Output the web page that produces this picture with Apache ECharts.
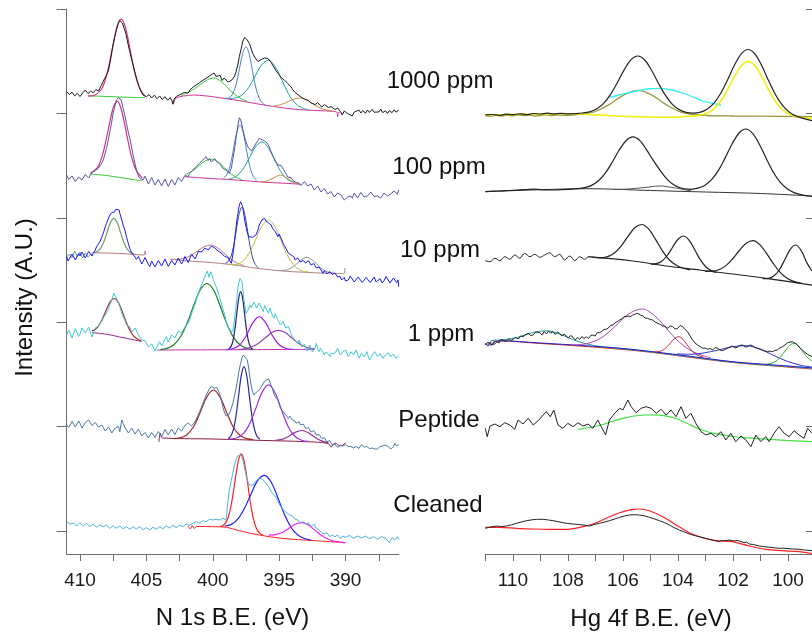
<!DOCTYPE html>
<html><head><meta charset="utf-8">
<script src="https://cdn.jsdelivr.net/npm/echarts@6/dist/echarts.min.js"></script>
<style>html,body{margin:0;padding:0;background:#fff}#c{width:812px;height:636px}</style>
</head><body><div id="c"></div>
<script>
// ---------- axis ticks / labels ----------
const nTicks = [387.5, 390, 392.5, 395, 397.5, 400, 402.5, 405, 407.5, 410];
const nTickLabels = [390, 395, 400, 405, 410];
const hgTicks = [100, 101, 102, 103, 104, 105, 106, 107, 108, 109, 110, 111];
const hgTickLabels = [100, 102, 104, 106, 108, 110];
const yTicks = [23, 127.4, 231.8, 336.2, 440.6, 545];
const sampleLabels = ['1000 ppm', '100 ppm', '10 ppm', '1 ppm', 'Peptide', 'Cleaned'];
const axisNames = ['N 1s B.E. (eV)', 'Hg 4f B.E. (eV)', 'Intensity (A.U.)'];

// ---------- N 1s : 1000 ppm ----------
const n1000Raw = [[411,462.3],[410.8,459.5],[410.6,461.8],[410.4,458.2],[410.2,460.5],[410,457.5],[409.8,461],[409.6,464],[409.4,460.5],[409.2,462.8],[409,461.3],[408.8,464.5],[408.6,463],[408.4,468.5],[408.2,474],[408,479],[407.85,484],[407.7,494],[407.55,506],[407.4,516],[407.25,524.7],[407.1,531],[407,533.3],[406.9,535],[406.8,531],[406.7,526.5],[406.55,521],[406.4,511],[406.25,502.3],[406.1,494],[406,489],[405.85,481],[405.7,473.5],[405.55,467.5],[405.4,462.5],[405.25,459],[405.1,460.5],[405,457.3],[404.8,459.5],[404.6,456],[404.4,458.8],[404.2,455.3],[404,458],[403.8,454.5],[403.6,457.3],[403.4,453.8],[403.2,456.5],[403.05,452.5],[403,449.8],[402.9,455],[402.75,457.5],[402.6,456],[402.45,459.5],[402.3,458],[402.15,461.5],[402,462.3],[401.85,461],[401.7,464.5],[401.5,466.7],[401.35,465],[401.2,469.5],[401,471.3],[400.85,470],[400.7,474],[400.5,475.7],[400.35,474.2],[400.2,478.5],[400.05,476.5],[399.9,481],[399.75,477.5],[399.6,475.8],[399.45,478.7],[399.3,473.5],[399.15,476],[399,474],[398.85,472],[398.75,470.7],[398.6,473.5],[398.5,472.3],[398.35,478],[398.25,482.3],[398.1,490],[398,497.3],[397.85,506],[397.75,512.3],[397.6,516.7],[397.5,516.7],[397.4,514],[397.25,510.7],[397.1,505],[397,500.7],[396.85,497],[396.75,495.7],[396.6,492.5],[396.5,491.3],[396.35,494.5],[396.25,494],[396.1,496],[396,494.7],[395.85,495.5],[395.75,494],[395.6,491.5],[395.5,489],[395.35,486],[395.25,483.3],[395.1,481],[395,479],[394.85,476.5],[394.75,474.7],[394.6,473.8],[394.5,472.3],[394.35,470.5],[394.25,469],[394.1,467],[394,464.7],[393.8,461.5],[393.6,459.5],[393.5,458],[393.3,456.5],[393.1,455],[393,454],[392.8,453.5],[392.6,451],[392.5,452.3],[392.3,449.5],[392.1,451.5],[392,450.7],[391.8,447],[391.6,449.5],[391.5,448],[391.3,446.5],[391.1,447.5],[391,445.7],[390.8,444.5],[390.6,446],[390.5,444],[390.35,441.5],[390.25,439],[390.1,443],[390,443.3],[389.85,440.5],[389.7,441.5],[389.5,438],[389.35,442],[389.2,440],[389,444],[388.85,441],[388.7,443.5],[388.5,440.7],[388.35,444],[388.2,441.5],[388,444.7],[387.85,441.8],[387.7,443.8],[387.5,442],[387.35,444.8],[387.2,441.3],[387,443.3],[386.85,440.5],[386.7,443.6],[386.5,441.3],[386.35,444.2],[386.2,441.8],[386,444]];
const n1000Fit407 = [[409.4,458],[408.9,458.8],[408.4,464.5],[408.15,471.9],[407.9,483.9],[407.65,499.8],[407.4,516.7],[407.15,530],[406.9,535],[406.65,529.8],[406.4,516.3],[406.15,499.2],[405.9,483.1],[405.65,470.9],[405.4,463.3],[405.1,457.8]];
const n1000Base407 = [[409.4,458],[408.5,457.8],[407,457],[406,456.6],[405.1,456.3]];
const n1000Base = [[403.05,453],[402.97,450.5],[402.85,455],[402.5,457.3],[402,458.3],[401.5,459],[401,458.7],[400,457.3],[399,455.3],[398,453.3],[397,451],[396,448.7],[395,446.7],[394,445],[393,444],[392,443.3],[391,442.7],[390.65,441.5],[390.6,437],[390.55,441.5],[390.4,441]];
const n1000P400 = [[402.4,458.3],[401.9,461.2],[401.4,465.1],[400.9,469.8],[400.4,474.3],[399.9,475.9],[399.4,472.8],[398.9,466.5],[398.4,460.2],[397.9,455.6],[397.4,452.9]];
const n1000P397 = [[399,455.6],[398.75,456.4],[398.5,460],[398.25,469.2],[398,484.5],[397.75,500.6],[397.5,507.2],[397.25,499.4],[397,482.2],[396.75,465.9],[396.5,455.6],[396.25,450.9],[396,448.9]];
const n1000P396 = [[398.8,455.5],[398.3,456],[397.8,458.9],[397.3,466.5],[396.8,478.1],[396.3,489.4],[395.8,493.7],[395.3,487.3],[394.8,473.9],[394.3,460.3],[393.8,450.9],[393.3,446.2],[392.8,444.3]];
const n1000P393 = [[395.4,448.1],[394.9,449.3],[394.4,451.9],[393.9,454.9],[393.4,456],[392.9,453.8],[392.4,449.7],[391.9,446],[391.4,443.9],[390.9,442.7]];

// ---------- N 1s : 100 ppm ----------
const n100Raw = [[411,379],[410.85,374.5],[410.75,374],[410.6,378],[410.5,377.3],[410.35,372.5],[410.25,373],[410.1,377],[410,378.3],[409.85,374],[409.75,375.7],[409.6,379.5],[409.5,379],[409.35,376],[409.25,377.3],[409.1,381.5],[409,380.7],[408.85,383.5],[408.75,384],[408.6,386],[408.5,387.3],[408.35,391],[408.25,394],[408.1,401],[408,405.7],[407.85,415],[407.75,422.3],[407.6,433],[407.5,440.7],[407.35,449],[407.25,454],[407.1,456.3],[407,455.5],[406.9,454],[406.75,445.7],[406.6,437],[406.5,430.7],[406.35,421],[406.25,415.7],[406.1,406],[406,399],[405.85,390],[405.75,384],[405.6,378],[405.5,375.7],[405.35,377.5],[405.25,374],[405.1,378],[405,376.3],[404.85,370],[404.75,372.3],[404.6,376.5],[404.5,375.7],[404.35,369],[404.25,370.7],[404.1,374.5],[404,373],[403.85,368],[403.75,369.7],[403.6,375],[403.5,374],[403.35,367.5],[403.25,369],[403.1,374.5],[403,373],[402.85,369],[402.75,370.7],[402.6,376.5],[402.5,375.7],[402.35,372.5],[402.25,374],[402.1,378.5],[402,379],[401.85,377.5],[401.75,380.7],[401.6,382],[401.5,384],[401.35,385],[401.25,387.3],[401.1,389],[401,390.7],[400.85,391.5],[400.75,394],[400.6,393],[400.5,397.3],[400.35,393.5],[400.25,395.7],[400.1,392],[400,394],[399.85,395.5],[399.75,393],[399.6,391.5],[399.5,390.7],[399.35,388],[399.25,385.7],[399.1,386.5],[399,384],[398.85,382.5],[398.75,380.7],[398.6,386],[398.5,394],[398.35,406],[398.25,415.7],[398.1,429],[398,436.3],[397.9,434],[397.75,425.7],[397.6,417],[397.5,412.3],[397.35,407],[397.25,405.7],[397.1,403],[397,404],[396.85,408],[396.75,410.7],[396.6,413.5],[396.5,415.7],[396.35,414.5],[396.25,414],[396.1,413.5],[396,412.3],[395.85,409.5],[395.75,407.3],[395.6,402],[395.5,399],[395.35,395],[395.25,392.3],[395.1,389],[395,387.3],[394.85,388.5],[394.75,386.3],[394.6,383],[394.5,380.7],[394.35,377],[394.25,375.7],[394.1,376.5],[394,374],[393.85,372],[393.75,371.7],[393.6,373],[393.5,370.7],[393.35,368.5],[393.25,369.7],[393.1,372.5],[393,371.7],[392.85,368],[392.75,369],[392.6,370],[392.5,368.3],[392.35,364],[392.25,365.7],[392.1,368],[392,366.3],[391.85,362],[391.75,362.3],[391.6,365.5],[391.5,364],[391.35,360],[391.25,359],[391.1,362.5],[391,360.7],[390.85,357],[390.75,358.3],[390.6,361],[390.5,362.3],[390.35,359],[390.25,357.3],[390.1,354],[390,352.3],[389.85,357],[389.75,359],[389.6,358],[389.5,355.7],[389.35,361],[389.25,359.7],[389.1,356],[389,357.3],[388.85,361.5],[388.75,360.7],[388.6,357],[388.5,355.7],[388.35,358],[388.25,359],[388.1,362],[388,360.3],[387.85,357.5],[387.75,356.3],[387.6,358],[387.5,359.7],[387.35,356],[387.25,357.3],[387.1,361],[387,360.7],[386.85,358],[386.75,357.3],[386.6,360],[386.5,359],[386.35,363],[386.25,362.3],[386.1,360],[386,364]];
const n100Fit407 = [[409.2,381],[408.7,386.1],[408.45,393.1],[408.2,404.2],[407.95,419.3],[407.7,435.4],[407.45,448],[407.2,452.6],[406.95,447.3],[406.7,434.1],[406.45,417.3],[406.2,401.6],[405.95,389.7],[405.7,382.1],[405.3,375.8]];
const n100Base407 = [[409.25,380],[408,378.5],[407,376.5],[406,374.5],[405.35,373]];
const n100Base = [[402.1,377.3],[401,376.3],[400,375.3],[399,374.7],[398,373.7],[397,372.7],[396,371.7],[395,371],[394,370.3],[393.4,369.7]];
const n100P400 = [[402.1,379.4],[401.6,382.4],[401.1,387.6],[400.6,392.8],[400.1,394.9],[399.6,392],[399.1,385.9],[398.6,379.9],[398.1,375.9],[397.8,374.3]];
const n100P398 = [[399.2,375.8],[398.95,379.2],[398.7,388],[398.45,403.9],[398.2,421.4],[397.95,429.1],[397.7,421],[397.45,403.2],[397.2,386.8],[396.95,377.5],[396.7,373.8]];
const n100P396 = [[398.8,374.8],[398.3,377.2],[397.8,383.5],[397.3,394.7],[396.8,406.8],[396.3,412],[395.8,405.8],[395.3,392.8],[394.8,380.8],[394.3,373.9],[393.8,371]];
const n100P395 = [[396.4,372.2],[395.9,373],[395.4,376.3],[394.9,379],[394.4,375.7],[393.9,371.6],[393.4,369.9]];

// ---------- N 1s : 10 ppm ----------
const n10Raw = [[411,297.3],[410.9,293],[410.75,294.7],[410.6,300],[410.5,299],[410.35,294],[410.25,295.7],[410.1,300.5],[410,298],[409.85,302],[409.75,300.7],[409.6,296],[409.5,297.3],[409.35,302.5],[409.25,301.3],[409.1,298],[409,300.7],[408.85,304],[408.75,307.3],[408.6,309],[408.5,312.3],[408.35,317],[408.25,320.7],[408.1,327],[408,330.7],[407.85,336],[407.75,339],[407.6,341.5],[407.5,340.7],[407.4,342],[407.3,344.7],[407.15,346.7],[407.05,344],[407,340.7],[406.85,334],[406.75,329],[406.6,323],[406.5,317.3],[406.35,310],[406.25,305.7],[406.1,301],[406,299],[405.85,297],[405.75,294.7],[405.6,297.5],[405.5,295.7],[405.35,290],[405.25,292.3],[405.1,296.5],[405,294.7],[404.85,289.5],[404.75,287.3],[404.6,293],[404.5,292.3],[404.35,287],[404.25,289],[404.1,293.5],[404,292.3],[403.85,288],[403.75,290],[403.6,295],[403.5,294],[403.35,287.5],[403.25,289],[403.1,293.5],[403,292.3],[402.85,289],[402.75,290.7],[402.6,296],[402.5,294.7],[402.35,290],[402.25,292.3],[402.1,297.5],[402,295.7],[401.85,291.5],[401.75,293.3],[401.6,300],[401.5,299],[401.35,295],[401.25,297.3],[401.1,302.5],[401,301.3],[400.85,302],[400.75,304],[400.6,306],[400.5,307.3],[400.35,304],[400.25,305.7],[400.1,308],[400,309],[399.85,306],[399.75,304.7],[399.6,303],[399.5,301.3],[399.35,301],[399.25,299],[399.1,297.5],[399,295.7],[398.85,296.5],[398.75,294],[398.6,290.7],[398.45,302.3],[398.3,320.7],[398.15,337.3],[398,349],[397.9,352.3],[397.75,347.3],[397.6,334],[397.45,324],[397.3,317.3],[397.15,319],[397,316.7],[396.85,318],[396.75,319],[396.6,324],[396.5,329],[396.4,331],[396.3,334],[396.2,332],[396.1,335.7],[396,333],[395.9,334.7],[395.8,331],[395.7,332.3],[395.6,329],[395.5,325.7],[395.4,326],[395.3,322.3],[395.2,320],[395.1,317.3],[395,320],[394.9,319],[394.8,314],[394.7,310.7],[394.6,308],[394.5,305.7],[394.4,304],[394.3,300.7],[394.2,302],[394.1,299],[394,300],[393.9,297.3],[393.8,294],[393.7,292.3],[393.6,296],[393.5,295.7],[393.4,292],[393.3,290.7],[393.2,293.5],[393.1,294],[393,291],[392.9,290.7],[392.8,293.5],[392.7,292.3],[392.6,289],[392.5,287.3],[392.4,290.5],[392.3,289],[392.2,286],[392.1,284],[392,287],[391.9,285.7],[391.8,283],[391.7,280.7],[391.6,283.5],[391.5,282.3],[391.4,280],[391.3,279],[391.2,282.5],[391.1,281.3],[391,279.5],[390.9,278],[390.8,281],[390.7,280],[390.6,277],[390.5,275.7],[390.4,277.5],[390.3,274],[390.2,276],[390.1,276.7],[390,273],[389.8,274],[389.65,278],[389.5,276.7],[389.35,272],[389.2,273.3],[389.05,277],[388.9,275.7],[388.75,271.5],[388.6,272.3],[388.45,276.5],[388.3,275.3],[388.15,271.5],[388,274],[387.85,277],[387.7,272],[387.55,270.5],[387.4,275.3],[387.25,271],[387.1,273.3],[386.95,277.5],[386.8,275.7],[386.65,271],[386.5,272.3],[386.4,276],[386.3,276.7],[386.15,271.3],[386.05,274],[386,267.3]];
const n10Sage = [[411,297],[410.8,300],[410.6,296],[410.4,303],[410.2,297],[410,302],[409.8,296],[409.6,301],[409.4,297],[409.2,300],[409,299]];
const n10Fit407 = [[408.95,301.6],[408.7,302.6],[408.45,305.7],[408.2,312.3],[407.95,322],[407.7,331.6],[407.45,335.6],[407.2,331.4],[406.95,321.6],[406.7,311.7],[406.45,304.9],[406.2,301.6],[405.95,300.4]];
const n10Base407 = [[409.1,301.3],[407,300.5],[405.15,299],[405.1,303],[405.05,299.5]];
const n10Base = [[403.2,294.7],[402,293.3],[401,292.3],[400,291.3],[399,290],[398,288.3],[397,286.3],[396,284.7],[395,283.3],[394,282.3],[393,281.7],[392,281],[391,280.7],[390.1,280.5],[390.05,286]];
const n10P400 = [[403.15,294.7],[402.65,294.6],[402.15,295.8],[401.65,298.6],[401.15,303],[400.65,307.3],[400.15,308.9],[399.65,306.3],[399.15,300.8],[398.65,295],[398.15,290.8],[397.65,288.4]];
const n10P398 = [[399.05,290.7],[398.8,293],[398.55,301],[398.3,317.6],[398.05,337.8],[397.8,347],[397.55,337.1],[397.3,316.1],[397.05,298.6],[396.8,289.5],[396.55,286.2]];
const n10P396 = [[398.8,289.8],[398.3,289.6],[397.8,292.3],[397.3,300.1],[396.8,313.4],[396.3,327.8],[395.8,333.9],[395.3,326.8],[394.8,311.4],[394.3,296.7],[393.8,287.4],[393.3,283.3],[392.8,282.1]];
const n10P393 = [[394.9,283.5],[394.4,284.1],[393.9,287.6],[393.4,293.5],[392.9,296.6],[392.4,292.9],[391.9,286.4],[391.4,282.3],[390.9,281]];

// ---------- N 1s : 1 ppm ----------
const n1Raw = [[411,219],[410.85,224],[410.75,222.3],[410.6,216],[410.5,218],[410.35,225.5],[410.25,224],[410.1,217.5],[410,220],[409.85,226],[409.75,227.3],[409.6,221],[409.5,220.7],[409.35,227],[409.25,225.7],[409.1,217],[409,219],[408.85,226],[408.75,224],[408.6,228],[408.5,230.7],[408.35,233],[408.25,235.7],[408.1,239],[408,240.7],[407.85,245],[407.75,249],[407.6,254],[407.45,260.7],[407.3,257.3],[407.15,252.3],[407,247.3],[406.85,241],[406.75,237.3],[406.6,233],[406.5,229],[406.35,230],[406.25,227.3],[406.1,222],[406,220.7],[405.85,226],[405.75,225.7],[405.6,219],[405.5,217.3],[405.35,214],[405.25,212.3],[405.1,213.5],[405,210.7],[404.85,207],[404.75,205.7],[404.6,210],[404.5,209],[404.35,203],[404.25,204],[404.1,210],[404,212.3],[403.85,208],[403.75,209],[403.6,215],[403.5,217.3],[403.35,212],[403.25,214],[403.1,219],[403,220.7],[402.85,216],[402.75,217.3],[402.6,223],[402.5,224],[402.35,221],[402.25,222.3],[402.1,227],[402,229],[401.85,231],[401.75,234],[401.6,240],[401.5,244],[401.35,249],[401.25,254],[401.1,260],[401,264],[400.85,269],[400.75,272.3],[400.6,277],[400.5,280.7],[400.4,283],[400.3,276.7],[400.15,282.3],[400.05,279],[400,275.7],[399.85,271],[399.75,267.3],[399.6,262],[399.5,257.3],[399.35,251],[399.25,245.7],[399.1,239],[399,232.3],[398.85,227],[398.75,224],[398.6,222],[398.5,222.3],[398.35,236],[398.25,247.3],[398.1,267.3],[397.95,275.7],[397.8,272.3],[397.65,254],[397.5,240.7],[397.35,244],[397.2,249],[397.1,246],[397,245.7],[396.9,252],[396.8,250.7],[396.7,246],[396.6,247.3],[396.5,251],[396.4,249],[396.3,245],[396.2,242.3],[396.1,248.5],[396,247.3],[395.9,243],[395.8,240.7],[395.7,246],[395.6,244],[395.5,238],[395.4,235.7],[395.3,240.5],[395.2,239],[395.1,234],[395,232.3],[394.9,229],[394.8,227.3],[394.7,232.5],[394.6,230.7],[394.5,226],[394.4,224],[394.3,227.5],[394.2,225.7],[394.1,220],[394,217.3],[393.9,216],[393.8,214],[393.7,212.5],[393.6,210.7],[393.5,214],[393.4,212.3],[393.3,207],[393.2,205.7],[393.1,210],[393,209],[392.9,203],[392.8,204],[392.7,209],[392.6,207.3],[392.5,202],[392.4,200.7],[392.3,206],[392.2,210.7],[392.1,205],[392,202.3],[391.9,206],[391.8,207.3],[391.7,202],[391.6,199],[391.5,202],[391.4,204],[391.3,200],[391.2,197.3],[391.1,200.5],[391,202.3],[390.8,200.7],[390.6,205.7],[390.4,199],[390.2,202.3],[390,204],[389.8,197.3],[389.6,202.3],[389.4,199],[389.2,204],[389,195.7],[388.8,200.7],[388.6,197.3],[388.4,202.3],[388.2,194],[388,199],[387.8,202.3],[387.6,197.3],[387.4,200.7],[387.2,195.7],[387,199],[386.8,201.3],[386.6,197.3],[386.4,200],[386.2,195.7],[386,198]];
const n1Fit407 = [[409.1,223.1],[408.9,224.3],[408.65,227.4],[408.4,232.8],[408.15,240.1],[407.9,247.8],[407.65,253.6],[407.4,255.5],[407.15,252.4],[406.9,245.3],[406.65,236.4],[406.4,228],[406.15,221.5],[405.9,217.3],[405.4,213]];
const n1Base407 = [[409.1,221.3],[408,219.8],[407,217],[406,214.3],[405.35,212.3]];
const n1Base = [[404.2,204],[398,204.3],[392.3,204.7]];
const n1P400 = [[403.95,204.4],[403.45,205.6],[402.95,209],[402.45,216.7],[401.95,230.3],[401.45,248],[400.95,264],[400.45,270.5],[399.95,264.2],[399.45,248.2],[398.95,230.5],[398.45,216.9],[397.95,209.2],[397.45,205.8],[396.95,204.6]];
const n1P398 = [[398.8,204.9],[398.65,206.9],[398.5,212.1],[398.35,223.1],[398.2,239.5],[398.05,255.5],[397.9,262.3],[397.75,255.5],[397.6,239.5],[397.45,223.1],[397.3,212.1],[397.15,206.9],[397,204.9]];
const n1P396 = [[399,204.4],[398.5,205.3],[398,208.8],[397.5,217.9],[397,230.8],[396.5,237.4],[396,230.9],[395.5,218.2],[395,209.2],[394.5,205.7],[394,204.6]];
const n1P395 = [[398.05,204.5],[397.55,205.3],[397.05,207.2],[396.55,210.8],[396.05,216.1],[395.55,221.4],[395.05,223.6],[394.55,221.4],[394.05,216.1],[393.55,210.8],[393.05,207.2],[392.55,205.3],[392.3,204.9]];

// ---------- N 1s : Peptide ----------
const pepRaw = [[411,129],[410.85,126.5],[410.75,128],[410.6,132.5],[410.5,131.3],[410.35,127],[410.25,129],[410.1,133],[410,130.7],[409.85,126],[409.75,127.3],[409.6,131.5],[409.5,130.7],[409.35,134],[409.25,132.3],[409.1,128.5],[409,128],[408.85,131.5],[408.75,130],[408.6,127],[408.5,125.7],[408.35,129],[408.25,127.3],[408.1,123],[408,124],[407.85,127],[407.75,125.7],[407.6,121],[407.5,122.3],[407.35,126],[407.25,124.7],[407.1,127.5],[407,122.3],[406.85,134],[406.75,130.7],[406.6,126],[406.5,124],[406.35,121],[406.25,122.3],[406.1,126],[406,124.7],[405.85,120],[405.75,120.7],[405.6,125],[405.5,124],[405.35,118],[405.25,117.3],[405.1,121.5],[405,120.7],[404.85,116],[404.75,115.7],[404.6,121.5],[404.5,120.7],[404.35,116.5],[404.25,118],[404.1,122.5],[404,121.3],[403.85,117],[403.75,119],[403.6,124.5],[403.5,124],[403.35,119],[403.25,120],[403.1,125],[403,124],[402.85,119.5],[402.75,120.7],[402.6,126],[402.5,125.7],[402.35,123],[402.25,124.7],[402.1,128.5],[402,128],[401.85,131],[401.75,130.7],[401.6,128],[401.5,129],[401.35,132],[401.25,134],[401.1,139],[401,142.3],[400.85,147],[400.75,150.7],[400.6,155],[400.5,159],[400.4,161],[400.3,164],[400.2,166],[400.1,168],[400,166.5],[399.9,165.7],[399.8,167.5],[399.7,166.7],[399.6,164],[399.5,160.7],[399.4,156],[399.3,150.7],[399.2,145],[399.1,140.7],[399,138],[398.9,137.3],[398.8,139],[398.7,142.3],[398.6,146],[398.5,150],[398.4,156],[398.3,162],[398.2,169],[398.1,177.3],[398,185],[397.9,190.7],[397.8,196],[397.7,199],[397.55,200.7],[397.4,194],[397.3,186],[397.2,176],[397.1,168],[397,162],[396.9,159],[396.8,160],[396.7,162],[396.6,163],[396.5,164],[396.4,166],[396.3,168],[396.2,171],[396.1,172],[396,174],[395.9,176],[395.8,175],[395.7,172],[395.6,168],[395.5,165],[395.4,160],[395.3,157.3],[395.2,156.5],[395.1,154],[395,150],[394.9,145.7],[394.8,144.5],[394.7,142.3],[394.6,140.5],[394.5,139],[394.4,137],[394.3,135.7],[394.2,138],[394.1,137.3],[394,134],[393.9,132.3],[393.8,133],[393.7,130.7],[393.6,131],[393.5,132.3],[393.4,129],[393.3,127.3],[393.2,130],[393.1,129],[393,125.5],[392.9,124],[392.8,126.5],[392.7,125.7],[392.6,122],[392.5,120.7],[392.4,123.5],[392.3,122.3],[392.2,119],[392.1,117.3],[392,119.5],[391.9,118],[391.8,115.5],[391.7,114],[391.6,116.5],[391.5,114.7],[391.4,112],[391.3,110.7],[391.2,113.5],[391.1,112.3],[391,109],[390.9,107.3],[390.8,110],[390.7,109],[390.6,106.5],[390.5,105.7],[390.4,109],[390.3,110.7],[390.2,108],[390.1,107.3],[390,109.5],[389.9,110.7],[389.8,107.5],[389.7,105.7],[389.6,107.5],[389.5,109],[389.4,106],[389.3,105.7],[389.2,107.5],[389.1,108],[389,105.5],[388.9,107.3],[388.8,109.5],[388.7,110],[388.6,107],[388.5,105.7],[388.4,107.5],[388.3,108],[388.2,105.5],[388.1,104],[388,106],[387.9,107.3],[387.8,105],[387.7,103.3],[387.6,105],[387.5,105.7],[387.4,107.5],[387.3,109],[387.2,108],[387.1,107.3],[387,109],[386.9,110],[386.8,107.5],[386.7,105.7],[386.6,105],[386.5,104],[386.4,107],[386.3,110.7],[386.2,108.5],[386.1,107.3],[386,109]];
const pepBase = [[404.05,112],[403.95,121],[403.8,116],[400,115],[396,113.5],[393,112.3],[391.3,110.5],[391.1,107],[390.8,111],[390.4,108],[390,111]];
const pepP400 = [[402.95,115.4],[402.45,116.1],[401.95,119.3],[401.45,127.2],[400.95,141.5],[400.45,157],[399.95,164],[399.45,156.9],[398.95,141.3],[398.45,126.8],[397.95,118.7],[397.45,115.4],[396.95,114.4]];
const pepP397 = [[398.85,115.4],[398.65,117.7],[398.45,124.4],[398.25,138.2],[398.05,158.8],[397.85,178.8],[397.65,187.4],[397.45,178.7],[397.25,158.6],[397.05,137.9],[396.85,124.1],[396.65,117.3],[396.45,114.9]];
const pepP396 = [[398.8,114.8],[398.3,115.7],[397.8,119.1],[397.3,128.1],[396.8,144.1],[396.3,161.4],[395.8,169.1],[395.3,161],[394.8,143.2],[394.3,126.8],[393.8,117.5],[393.3,113.7],[392.8,112.6]];
const pepP393 = [[395.3,113.6],[394.8,114.7],[394.3,117.5],[393.8,121.6],[393.3,123.5],[392.8,121.2],[392.3,116.5],[391.8,113.1],[391.3,111.1]];

// ---------- N 1s : Cleaned ----------
const clRaw = [[411,32.3],[410.75,30],[410.5,30.7],[410.25,28],[410,31.3],[409.75,28],[409.5,30.7],[409.25,27.3],[409,30],[408.75,26.7],[408.5,29],[408.25,27.3],[408,29],[407.75,25.7],[407.5,28.3],[407.25,25.7],[407,28],[406.75,25.3],[406.5,27.3],[406.25,24.7],[406,27.3],[405.75,25],[405.5,27.3],[405.25,24.3],[405,26.3],[404.75,24],[404.5,26.7],[404.25,24.7],[404,27.3],[403.75,25.3],[403.5,28],[403.25,26],[403,28.7],[402.75,26.3],[402.5,28.7],[402.25,27.3],[402,30],[401.75,28.7],[401.5,30.7],[401.25,32.3],[401,30.7],[400.75,33.3],[400.5,32.3],[400.25,34.7],[400,34],[399.75,34.7],[399.5,34],[399.25,35.7],[399,34],[398.9,47.3],[398.75,64],[398.6,74],[398.45,84],[398.3,92.3],[398.15,98],[398,100],[397.85,99],[397.7,92.3],[397.55,82.3],[397.4,74],[397.25,69],[397.1,67.3],[396.95,69],[396.8,72.3],[396.6,74.7],[396.4,75.7],[396.2,74],[396,70.7],[395.8,67.3],[395.6,62.3],[395.4,59],[395.2,55.7],[395,50],[394.8,45.7],[394.6,43.3],[394.4,40.7],[394.2,39],[394,38],[393.8,34.7],[393.6,34],[393.4,31.3],[393.2,32.3],[393,30],[392.8,31.3],[392.6,27.3],[392.4,30],[392.2,25.7],[392,24],[391.8,21.3],[391.6,20],[391.4,21.3],[391.2,17.3],[391,19],[390.8,17.3],[390.6,19],[390.4,15.7],[390.2,18],[390,16.7],[389.7,18.7],[389.4,15.7],[389.1,18],[388.8,16],[388.5,18],[388.2,15.3],[387.9,17.3],[387.6,14.7],[387.3,17.3],[387,16],[386.7,11.3],[386.5,16.3],[386.3,14],[386.1,17.3],[386,14.7]];
const clBase = [[401.85,28],[401.7,25],[401.55,28.5],[401.4,25.5],[401.2,27.5],[400,27.3],[399,26.7],[398,23.3],[396.5,19],[394.8,15.7],[392.3,13.3],[390,11.3]];
const clP398 = [[399.45,27.7],[399.25,28.3],[399.05,30.8],[398.85,36.2],[398.65,46.5],[398.45,62],[398.25,79.8],[398.05,94.6],[397.85,100.1],[397.65,93.7],[397.45,77.9],[397.25,58.8],[397.05,42.1],[396.85,30.6],[396.65,23.9],[396.45,20.6],[396.25,19.1]];
const clP396 = [[399.1,28],[398.6,29.6],[398.1,35.1],[397.6,46],[397.1,60.6],[396.6,73.8],[396.1,78.6],[395.6,71.7],[395.1,56.3],[394.6,39.4],[394.1,26.5],[393.6,19],[393.1,15.5],[392.6,13.9]];
const clP393 = [[395.8,18.8],[395.3,19.3],[394.8,21.2],[394.3,25.5],[393.8,29.8],[393.3,31.4],[392.8,29],[392.3,23.6],[391.8,18.4],[391.3,14.7],[390.8,12.6],[390.3,11.7],[390,11.3]];

// ---------- Hg 4f : 1000 ppm ----------
const hg1000Env = [[111,439.2],[110.75,439.5],[110.5,438.6],[110.25,439.8],[110,439.3],[109.75,440.2],[109.5,439.4],[109.25,440.5],[109,440],[108.75,440.8],[108.5,440.1],[108.25,440.6],[108,440.2],[107.75,440.4],[107.46,441],[107.21,442.2],[106.96,445],[106.71,450.4],[106.46,459.1],[106.21,471],[105.96,483.9],[105.71,494.1],[105.46,498],[105.21,494],[104.96,483.8],[104.71,470.8],[104.46,458.8],[104.21,449.9],[103.96,444.4],[103.71,441.6],[103.46,440.9],[103.21,441.6],[102.96,444.5],[102.7,450.7],[102.45,460.5],[102.2,474],[101.95,488.7],[101.7,500.2],[101.45,504.5],[101.2,499.9],[100.95,488],[100.7,472.9],[100.45,459],[100.2,448.6],[99.95,441.8],[99.7,437.9],[99.45,435.7],[99.13,433.3]];
const hg1000Olive = [[111,438.3],[110.8,437.6],[110.6,438.9],[110.4,438],[110.2,438.7],[110,438.2],[109.8,439.1],[109.6,438.3],[109.4,438.9],[109.2,438],[109,438.5],[108.8,439.2],[108.6,438.4],[108.4,439],[108.2,438.6],[108,438.7],[107.46,439.8],[106.96,443],[106.46,450.1],[105.96,459.2],[105.46,463.6],[104.96,459.1],[104.46,449.9],[103.96,442.7],[103.46,439.5],[102.96,438.5],[102,438],[101,437.8],[100,437.6],[99.13,437.3]];
const hg1000Cyan = [[106.49,456.7],[106.2,458.5],[105.9,460.7],[105.5,463],[105.1,465],[104.73,465.7],[104.3,464.5],[103.9,461.5],[103.5,457.5],[103.1,453],[102.7,450.3],[102.44,449]];
const hg1000Yellow = [[111,439.2],[110,439.5],[109,440],[108,440.3],[107.5,440],[107,439],[106,437.8],[105,437],[104.5,436.8],[104,437],[103.45,437.9],[103.2,438.7],[102.95,440.7],[102.7,445],[102.45,452.7],[102.2,464.2],[101.95,477.4],[101.7,488.3],[101.45,492.6],[101.2,488.2],[100.95,477.2],[100.7,463.9],[100.45,452.2],[100.2,444.2],[99.95,439.7],[99.7,437.3],[99.45,436.3],[99.13,435.7]];

// ---------- Hg 4f : 100 ppm ----------
const hg100Env = [[111,362.3],[110.75,362.8],[110.5,363],[110.25,363.4],[110,363.6],[109.75,364.2],[109.5,364.5],[109.25,364.8],[109,364.4],[108.75,364.1],[108.5,364],[108.25,364.3],[108,364.6],[107.64,365.3],[107.39,366.3],[107.14,368.6],[106.89,373.2],[106.64,380.9],[106.39,391.7],[106.14,403.7],[105.89,413.3],[105.64,417.2],[105.39,413.6],[105.14,404.2],[104.89,393.3],[104.64,383.3],[104.39,374.7],[104.14,369],[103.89,366],[103.64,364.8],[103.53,364.7],[103.28,365.8],[103.03,368.6],[102.78,374.3],[102.53,383.6],[102.28,396.4],[102.03,410.2],[101.78,421],[101.53,425],[101.28,420.3],[101.03,409],[100.78,394.8],[100.53,381.5],[100.28,371.6],[100.03,365.2],[99.78,361.4],[99.53,359.4],[99.13,357.5]];
const hg100Base = [[111,362.3],[109,364.3],[107.3,365.3],[105,363.5],[103,362],[101,360.5],[99.13,358]];
const hg100Small = [[106.4,364.5],[105.8,365],[105.2,366.5],[104.67,368],[104.1,366],[103.5,363]];

// ---------- Hg 4f : 10 ppm ----------
const hg10Raw = [[111,293.3],[110.83,292.3],[110.65,295.7],[110.47,293.3],[110.29,297.3],[110.11,294.7],[109.93,299],[109.75,295.7],[109.57,300.7],[109.38,297.3],[109.2,299.7],[109.02,296.7],[108.84,299],[108.66,301.3],[108.48,297.3],[108.3,299.7],[108.12,294],[107.93,298],[107.75,293.3],[107.57,297.3],[107.39,294.7],[107.27,297.3]];
const hg10Base = [[107.27,297.3],[105.64,293],[104.43,288],[103.22,284],[102.02,280],[100.81,275.7],[99.13,268.8]];
const hg10PA = [[107.15,297],[106.81,296.1],[106.56,297.4],[106.31,301],[106.06,308.2],[105.81,317.9],[105.56,326.5],[105.31,329.5],[105.06,324.8],[104.81,314.4],[104.56,303],[104.31,294],[104.06,288.7],[103.81,285.7],[103.56,284.1]];
const hg10PB = [[104.99,289.8],[104.79,290.3],[104.59,292.8],[104.39,298.5],[104.19,307],[103.99,315],[103.79,318],[103.59,313.6],[103.39,304.2],[103.19,294.3],[102.99,287.3],[102.79,283.4],[102.59,281.5]];
const hg10PC = [[103.02,282.7],[102.77,282.8],[102.52,284.2],[102.27,288.1],[102.02,295],[101.77,303.5],[101.52,310.8],[101.27,313.3],[101.02,309.1],[100.77,300.1],[100.52,289.8],[100.27,281.2],[100.02,275.6],[99.77,272.4],[99.52,270.6]];
const hg10PD = [[100.92,275.4],[100.72,275.6],[100.52,277.9],[100.32,284],[100.12,294.2],[99.92,304.7],[99.72,309],[99.52,303.3],[99.32,291.4],[99.13,283]];

// ---------- Hg 4f : 1 ppm ----------
const hg1Raw = [[111,209],[110.92,211.5],[110.83,210.7],[110.75,209],[110.67,213],[110.59,212.3],[110.5,211],[110.43,214.5],[110.35,214],[110.25,212.5],[110.15,215.5],[110.07,213.5],[109.99,214.7],[109.9,216.5],[109.8,215],[109.72,218],[109.63,217.3],[109.53,219.5],[109.44,220.7],[109.35,218.5],[109.26,219],[109.17,222],[109.1,220],[109.02,221.3],[108.94,219],[108.86,222.5],[108.78,220],[108.7,223],[108.62,221],[108.54,222.3],[108.46,219.5],[108.38,222],[108.3,220.7],[108.22,218],[108.14,220],[108.06,218],[107.98,216],[107.9,218.5],[107.81,216.7],[107.73,214],[107.65,216.5],[107.57,214.7],[107.49,217.5],[107.41,215.5],[107.33,217.3],[107.25,215.5],[107.17,218.5],[107.09,219],[107.01,218],[106.93,221.5],[106.85,221.3],[106.77,222.5],[106.69,224.5],[106.61,224.7],[106.53,226],[106.45,228.5],[106.36,229],[106.28,231.5],[106.2,232.5],[106.12,234],[106.04,235],[105.96,237.5],[105.88,237.3],[105.8,238],[105.72,237.5],[105.64,239],[105.55,240],[105.46,240.7],[105.37,239],[105.28,238],[105.19,236],[105.1,235.7],[105.01,234.5],[104.92,234],[104.83,232],[104.73,230.7],[104.64,229.5],[104.55,228],[104.46,227.5],[104.37,225.7],[104.28,228],[104.19,227.3],[104.1,225],[104.01,225.7],[103.92,228.5],[103.83,227.3],[103.74,224.5],[103.65,222.3],[103.56,218],[103.47,214],[103.38,211],[103.29,209],[103.2,207.5],[103.1,205.7],[103.01,206],[102.92,204.7],[102.83,205.5],[102.74,204],[102.65,206.5],[102.56,205.7],[102.47,204],[102.38,203.3],[102.29,204.5],[102.2,205.7],[102.11,207],[102.02,208],[101.93,206],[101.84,206.7],[101.75,208.5],[101.65,209],[101.56,207],[101.47,207.3],[101.38,209],[101.29,208.3],[101.2,206.5],[101.11,205.7],[101.02,205],[100.93,204],[100.84,203],[100.75,202.3],[100.66,203],[100.57,202.3],[100.48,203.5],[100.39,204],[100.3,206],[100.2,207.3],[100.11,209],[100.02,211.3],[99.93,212],[99.84,212.3],[99.75,211],[99.66,209],[99.57,206],[99.48,204],[99.38,201.5],[99.28,199.5],[99.13,197.3]];
const hg1BaseBlue = [[111,210.5],[110.9,208],[110.8,211.5],[110.7,209.5],[110.5,213.3],[109,211],[107.5,208.5],[106,205.5],[104.92,202.3],[103.5,197.5],[102.02,192.3],[100.5,189],[99.13,186.2]];
const hg1BaseRed = [[111,209],[110.9,211.5],[110.8,208.5],[110.65,212],[110.5,213],[109,210.5],[107.5,207.8],[106,204.5],[104.92,201.5],[103.5,196.5],[102.02,191.5],[100.5,188],[99.13,185]];
const hg1Teal = [[111,211],[110.9,209],[110.78,213.5],[110.28,214.3],[109.78,217.1],[109.28,221.4],[108.78,223.2],[108.28,219.8],[107.78,214],[107.28,209.8],[106.78,207.4],[106,205.3],[104.92,202],[103.5,197],[102.02,192],[100.5,188.5],[99.13,185.8]];
const hg1Magenta = [[107.81,209.1],[107.31,210.4],[106.81,215.8],[106.31,226.9],[105.81,239.7],[105.31,245],[104.81,237.4],[104.31,222.1],[103.81,208.5],[103.31,200.5],[102.81,196.3]];
const hg1Red = [[104.87,202.1],[104.72,202.3],[104.57,203.5],[104.42,206.5],[104.27,211.1],[104.12,215.6],[103.97,217.3],[103.82,214.7],[103.67,209.4],[103.52,203.9],[103.37,200.1],[103.22,198],[103.07,196.9]];
const hg1Blue = [[104.03,200.2],[103.53,199.7],[103.03,201.2],[102.53,204],[102.03,207.3],[101.53,208.3],[101.03,205],[100.53,198.7],[100.03,192.7],[99.53,188.7],[99.13,186.9]];
const hg1Green = [[100.78,190.1],[100.58,190.9],[100.38,194.1],[100.18,200.4],[99.98,207.6],[99.78,210.7],[99.58,206.9],[99.38,198.9],[99.13,193]];

// ---------- Hg 4f : Peptide ----------
const hgPepRaw = [[111,125.7],[110.93,117.3],[110.83,128],[110.65,130],[110.47,127.3],[110.29,131.3],[110.11,129],[109.93,124.7],[109.81,134],[109.63,130],[109.44,135.7],[109.26,129],[109.08,133.3],[108.9,139],[108.78,142.3],[108.64,137.3],[108.51,144],[108.36,129],[108.18,125.7],[108,130.7],[107.81,127.3],[107.63,131.3],[107.45,128],[107.27,130],[107.09,125.7],[106.91,134],[106.79,127.3],[106.63,119],[106.49,134],[106.3,140.7],[106.12,145.7],[106,144],[105.82,154],[105.7,147.3],[105.52,141.3],[105.34,145.7],[105.16,147.3],[104.98,145.7],[104.79,140.7],[104.61,144.7],[104.43,139],[104.25,144],[104.07,137.3],[103.89,147.3],[103.71,135.7],[103.53,140.7],[103.35,130.7],[103.16,122.3],[102.98,119],[102.8,120.7],[102.62,117.3],[102.44,122.3],[102.26,114],[102.08,120.7],[101.9,112.3],[101.71,118],[101.53,114],[101.35,107.3],[101.17,119],[100.99,112.3],[100.81,117.3],[100.69,112.3],[100.51,120.7],[100.33,127.3],[100.14,120.7],[99.96,117.3],[99.78,123.3],[99.6,119],[99.42,115.7],[99.29,125.7],[99.13,120.7]];
const hgPepGreen = [[107.63,124.7],[107.2,126.5],[106.8,129],[106.4,132.5],[106,135.7],[105.6,138],[105.2,139],[104.86,139.2],[104.5,138.3],[104.1,135.7],[103.7,131],[103.3,126],[102.9,122],[102.5,119.7],[102,117.5],[101.5,116.2],[101,115.2],[100.5,114.3],[100,113.5],[99.5,112.8],[99.13,112.3]];

// ---------- Hg 4f : Cleaned ----------
const hgClRaw = [[111,25.7],[110.8,27],[110.59,28],[110.4,27.5],[110.23,28],[110.05,29.2],[109.87,30.7],[109.7,32],[109.5,33.3],[109.3,34.2],[109.14,34.7],[108.9,34.7],[108.7,34],[108.54,33.3],[108.35,32.3],[108.18,31.3],[108,30.5],[107.81,30],[107.6,29.5],[107.45,29],[107.21,28],[107.05,29.5],[106.85,30.7],[106.65,32],[106.49,33.3],[106.3,35],[106.12,36.7],[105.95,38],[105.76,39],[105.58,39.3],[105.4,39],[105.2,38],[105.04,36.7],[104.85,35],[104.67,33.3],[104.5,31.5],[104.31,29],[104.15,26.5],[103.95,24],[103.75,21.8],[103.59,20],[103.4,18.5],[103.22,17.3],[103.05,16],[102.86,14.7],[102.68,13.5],[102.5,12.3],[102.4,13.6],[102.32,13.2],[102.14,14],[101.96,13],[101.85,13.6],[101.78,12.3],[101.6,11.5],[101.5,11.9],[101.41,10],[101.25,9.5],[101.05,8],[100.9,7.5],[100.69,6.7],[100.5,6.2],[100.33,5.7],[100.15,5.8],[99.96,5.3],[99.8,5],[99.6,4.7],[99.4,4],[99.13,3.3]];
const hgClRed = [[111,26.7],[110.47,26.7],[109.87,25.7],[109.26,25],[108.66,24.7],[108.06,24.7],[107.57,26.7],[107.09,30],[106.61,35.7],[106.12,41.3],[105.64,44.7],[105.4,45],[105.04,43.3],[104.55,37.3],[104.07,29],[103.59,21.3],[103.22,17.3],[102.62,13.3],[102.02,12.3],[101.41,8],[100.81,4.7],[100.2,3.3],[99.6,2.3],[99.13,0.5]];

// ---------- build series ----------
const series = [];
function line(panel, data, color, smooth, width) {
  series.push({
    type: 'line', xAxisIndex: panel, yAxisIndex: panel, data: data,
    symbol: 'none', showSymbol: false, silent: true, animation: false,
    smooth: smooth ? 0.35 : false, clip: true,
    lineStyle: { color: color, width: width || 1 }
  });
}
// N 1s panel (0): components first, raw spectra on top
line(0, n1000Base407, '#33cc33', true);
line(0, n1000Base, '#cc3399', true);
line(0, n1000P400, '#33cc33', true);
line(0, n1000P397, '#4a80c8', true);
line(0, n1000P396, '#20a0a0', true);
line(0, n1000P393, '#c8873a', true);
line(0, n1000Fit407, '#d62f7a', true, 1.2);
line(0, n1000Raw, '#1a1a1a', false);

line(0, n100Base407, '#33cc33', true);
line(0, n100Base, '#cc3399', true);
line(0, n100P400, '#33cc33', true);
line(0, n100P398, '#4a80c8', true);
line(0, n100P396, '#20a0a0', true);
line(0, n100P395, '#c8873a', true);
line(0, n100Fit407, '#d62f7a', true, 1.2);
line(0, n100Raw, '#5555aa', false);

line(0, n10Sage, '#6f9f6f', false);
line(0, n10Base407, '#b07878', true);
line(0, n10Base, '#b08080', true);
line(0, n10P400, '#c07a70', true);
line(0, n10P398, '#3c4c90', true);
line(0, n10P396, '#b8c040', true);
line(0, n10P393, '#909090', true);
line(0, n10Fit407, '#6f9f6f', true, 1.2);
line(0, n10Raw, '#1a1aff', false);

line(0, n1Base407, '#902890', true);
line(0, n1Base, '#c030c0', true);
line(0, n1P400, '#208020', true, 1.2);
line(0, n1P398, '#202080', true, 1.2);
line(0, n1P396, '#a020f0', true, 1.2);
line(0, n1P395, '#a040b0', true, 1.2);
line(0, n1Fit407, '#b02828', true, 1.2);
line(0, n1Raw, '#40c8d0', false);

line(0, pepBase, '#8a2040', true);
line(0, pepP400, '#a02828', true, 1.2);
line(0, pepP397, '#2828a0', true, 1.2);
line(0, pepP396, '#a030e0', true, 1.2);
line(0, pepP393, '#9030a0', true, 1.2);
line(0, pepRaw, '#4a78a8', false);

line(0, clBase, '#ff2020', true);
line(0, clP398, '#ff2020', true, 1.2);
line(0, clP396, '#2020ff', true, 1.2);
line(0, clP393, '#ff20ff', true, 1.2);
line(0, clRaw, '#4cb0d8', false);

// Hg 4f panel (1)
line(1, hg1000Olive, '#9a9a40', true, 1.3);
line(1, hg1000Cyan, '#30f0f0', true, 1.3);
line(1, hg1000Yellow, '#f0f000', true, 1.5);
line(1, hg1000Env, '#222222', true, 1.2);

line(1, hg100Base, '#333333', true);
line(1, hg100Small, '#555555', true);
line(1, hg100Env, '#222222', true, 1.2);

line(1, hg10Raw, '#222222', true);
line(1, hg10Base, '#222222', true, 1.2);
line(1, hg10PA, '#222222', true, 1.2);
line(1, hg10PB, '#222222', true, 1.2);
line(1, hg10PC, '#222222', true, 1.2);
line(1, hg10PD, '#222222', true, 1.2);

line(1, hg1BaseRed, '#d03030', true);
line(1, hg1Teal, '#20a0a0', true);
line(1, hg1BaseBlue, '#2020c0', true);
line(1, hg1Magenta, '#b040c0', true);
line(1, hg1Red, '#c03030', true);
line(1, hg1Blue, '#3030d0', true);
line(1, hg1Green, '#30b030', true);
line(1, hg1Raw, '#222222', false);

line(1, hgPepGreen, '#40e040', true, 1.2);
line(1, hgPepRaw, '#222222', false);

line(1, hgClRed, '#ff2020', true, 1.2);
line(1, hgClRaw, '#222222', false);

// ---------- chart ----------
const FONT = '"Liberation Sans", Arial, sans-serif';
const axisGray = '#6e6e6e';
const labelPos = [[440, 81.5], [439, 167], [440, 250.5], [441, 334], [439, 420], [438, 505]];

const option = {
  backgroundColor: '#ffffff',
  animation: false,
  grid: [
    { left: 66.7, top: 9, width: 332, height: 545 },
    { left: 485.3, top: 9, width: 327.7, height: 545 }
  ],
  xAxis: [
    { type: 'value', gridIndex: 0, min: 386, max: 411, inverse: true,
      axisLine: { lineStyle: { color: axisGray, width: 1 } },
      axisTick: { show: true, length: 7, customValues: nTicks, lineStyle: { color: axisGray } },
      axisLabel: { customValues: nTickLabels, fontSize: 19, color: '#1a1a1a', margin: 17, fontFamily: FONT },
      splitLine: { show: false } },
    { type: 'value', gridIndex: 1, min: 99.13, max: 111, inverse: true,
      axisLine: { lineStyle: { color: axisGray, width: 1 } },
      axisTick: { show: true, length: 7, customValues: hgTicks, lineStyle: { color: axisGray } },
      axisLabel: { customValues: hgTickLabels, fontSize: 19, color: '#1a1a1a', margin: 17, fontFamily: FONT },
      splitLine: { show: false } }
  ],
  yAxis: [
    { type: 'value', gridIndex: 0, min: 0, max: 545,
      axisLine: { show: true, lineStyle: { color: axisGray, width: 1 } },
      axisTick: { show: true, length: 10, customValues: yTicks, lineStyle: { color: axisGray } },
      axisLabel: { show: false }, splitLine: { show: false } },
    { type: 'value', gridIndex: 1, min: 0, max: 545, position: 'right',
      axisLine: { show: false },
      axisTick: { show: true, inside: true, length: 6, customValues: yTicks, lineStyle: { color: axisGray } },
      axisLabel: { show: false }, splitLine: { show: false } }
  ],
  graphic: sampleLabels.map((t, i) => ({
    type: 'text', x: labelPos[i][0], y: labelPos[i][1], silent: true, z: 100,
    style: { text: t, textAlign: 'center', textVerticalAlign: 'middle', font: '24px ' + FONT, fill: '#111111' }
  })).concat([
    { type: 'text', x: 232.5, y: 618, silent: true,
      style: { text: axisNames[0], textAlign: 'center', textVerticalAlign: 'middle', font: '24px ' + FONT, fill: '#111111' } },
    { type: 'text', x: 651, y: 619, silent: true,
      style: { text: axisNames[1], textAlign: 'center', textVerticalAlign: 'middle', font: '24px ' + FONT, fill: '#111111' } },
    { type: 'text', x: 25, y: 297.5, rotation: Math.PI / 2, silent: true,
      style: { text: axisNames[2], textAlign: 'center', textVerticalAlign: 'middle', font: '24px ' + FONT, fill: '#111111' } }
  ]),
  series: series
};
const chart = echarts.init(document.getElementById('c'), null, { renderer: 'canvas' });
chart.setOption(option);
</script></body></html>
